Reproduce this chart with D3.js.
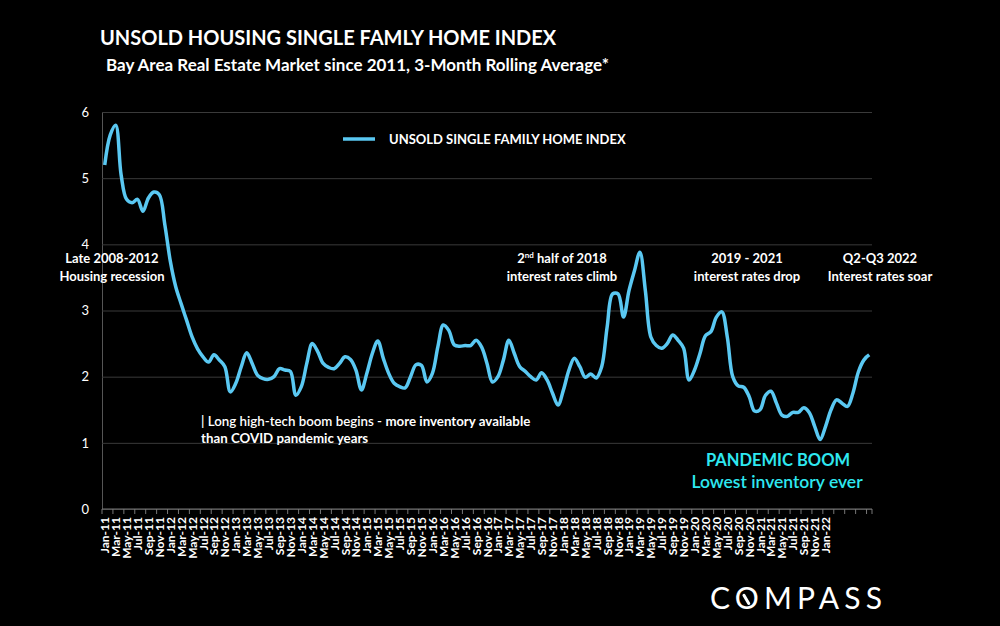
<!DOCTYPE html>
<html>
<head>
<meta charset="utf-8">
<script src="https://cdn.jsdelivr.net/npm/d3@7"></script>
<style>
  html, body { margin: 0; padding: 0; background: #000; }
  svg { display: block; font-family: Lato, "Open Sans", sans-serif; }
</style>
</head>
<body>
<svg id="chart"></svg>
<script>
// monthly values, Jan-11 .. Sep-22
const indexValues = [
  5.20, 5.65, 5.80, 5.05, 4.68, 4.63, 4.68, 4.50, 4.70, 4.79, 4.75, 4.30,
  3.75, 3.36, 3.10, 2.85, 2.60, 2.42, 2.30, 2.22, 2.33, 2.25, 2.15, 1.77,
  1.90, 2.15, 2.36, 2.20, 2.02, 1.97, 1.96, 2.00, 2.12, 2.10, 2.08, 1.72,
  1.85, 2.20, 2.50, 2.38, 2.20, 2.14, 2.12, 2.20, 2.30, 2.26, 2.10, 1.80,
  2.05, 2.35, 2.54, 2.28, 2.05, 1.90, 1.85, 1.83, 2.00, 2.18, 2.17, 1.92,
  2.05, 2.45, 2.78, 2.70, 2.48, 2.46, 2.47, 2.47, 2.55, 2.45, 2.20, 1.92,
  2.00, 2.25, 2.55, 2.35, 2.15, 2.08, 2.00, 1.95, 2.06, 1.95, 1.75, 1.57,
  1.80, 2.10, 2.28, 2.15, 1.99, 2.04, 1.98, 2.15, 2.75, 3.25, 3.25, 2.90,
  3.30, 3.60, 3.88, 3.30, 2.60, 2.47, 2.43, 2.50, 2.63, 2.55, 2.43, 1.95,
  2.10, 2.35, 2.62, 2.68, 2.90, 2.98, 2.60, 2.00, 1.86, 1.84, 1.70, 1.48,
  1.50, 1.72, 1.78, 1.60, 1.42, 1.40, 1.46, 1.46, 1.53, 1.46, 1.25, 1.05,
  1.25, 1.50, 1.65, 1.60, 1.55, 1.75, 2.07, 2.25, 2.33
];
const fmt = d3.timeFormat('%b-%y');
const months = d3.timeMonth.range(new Date(2011, 0, 1), new Date(2011, indexValues.length, 1)).map(fmt);
const lastLabel = 'Jan-22';
const yTicks = [0, 1, 2, 3, 4, 5, 6];

const width = 1000, height = 626;
const marginTop = 112, marginRight = 128, marginBottom = 117, marginLeft = 102;

const svg = d3.select('#chart')
  .attr('width', width)
  .attr('height', height)
  .attr('viewBox', [0, 0, width, height]);

svg.append('rect').attr('width', width).attr('height', height).attr('fill', '#000');

const x = d3.scaleBand()
  .domain(months)
  .range([marginLeft, width - marginRight]);
const y = d3.scaleLinear()
  .domain([0, 6])
  .range([height - marginBottom, marginTop]);

// grid + y labels
svg.append('g')
  .attr('transform', `translate(${marginLeft},0)`)
  .call(d3.axisLeft(y).tickValues(yTicks).tickFormat(d3.format('d')).tickSize(0).tickPadding(13))
  .call((g) => g.select('.domain').attr('stroke', '#555'))
  .call((g) => g.selectAll('.tick text').attr('fill', '#fff').attr('font-size', 13).attr('font-family', 'Lato'))
  .call((g) =>
    g.selectAll('.tick line')
      .clone()
      .attr('x2', width - marginLeft - marginRight)
      .attr('stroke', '#3a3a3a')
  );

// x axis
const labelIdx = months.indexOf(lastLabel);
const xAxis = svg.append('g')
  .attr('transform', `translate(0,${height - marginBottom})`);
xAxis.append('line')
  .attr('x1', marginLeft).attr('x2', width - marginRight)
  .attr('stroke', '#777');
xAxis.selectAll('line.tk')
  .data(months.filter((d, i) => i % 2 === 0).concat([null]))
  .join('line')
  .attr('class', 'tk')
  .attr('x1', (d) => d ? x(d) : width - marginRight)
  .attr('x2', (d) => d ? x(d) : width - marginRight)
  .attr('y2', 5)
  .attr('stroke', '#777');
xAxis.selectAll('text')
  .data(months.filter((d, i) => i % 2 === 0 && i <= labelIdx))
  .join('text')
  .attr('transform', (d) => `translate(${x(d) + x.bandwidth() / 2 + 4.5},8) rotate(-90)`)
  .attr('text-anchor', 'end')
  .attr('fill', '#fff')
  .attr('font-size', 12)
  .attr('font-weight', 700)
  .text((d) => d);

// line
const line = d3.line()
  .curve(d3.curveCatmullRom.alpha(0.5))
  .x((d, i) => x(months[i]) + x.bandwidth() / 2)
  .y((d) => y(d));
svg.append('path')
  .datum(indexValues)
  .attr('fill', 'none')
  .attr('stroke', '#5ac8f2')
  .attr('stroke-width', 3.5)
  .attr('stroke-linejoin', 'round')
  .attr('d', line);

// titles
svg.append('text')
  .attr('x', 100).attr('y', 45)
  .attr('fill', '#fff').attr('font-size', 20).attr('font-weight', 700)
  .text('UNSOLD HOUSING SINGLE FAMLY HOME INDEX');
svg.append('text')
  .attr('x', 106).attr('y', 71)
  .attr('fill', '#fff').attr('font-size', 17).attr('font-weight', 700)
  .text('Bay Area Real Estate Market since 2011, 3-Month Rolling Average*');

// legend
svg.append('line')
  .attr('x1', 343).attr('x2', 375).attr('y1', 139).attr('y2', 139)
  .attr('stroke', '#5ac8f2').attr('stroke-width', 3.5);
svg.append('text')
  .attr('x', 389).attr('y', 144)
  .attr('fill', '#fff').attr('font-size', 13).attr('font-weight', 700)
  .text('UNSOLD SINGLE FAMILY HOME INDEX');

// annotations
const notes = [
  { x: 112, lines: ['Late 2008-2012', 'Housing recession'] },
  { x: 562, lines: ['2nd half of 2018', 'interest rates climb'] },
  { x: 747, lines: ['2019 - 2021', 'interest rates drop'] },
  { x: 880, lines: ['Q2-Q3 2022', 'Interest rates soar'] }
];
notes.forEach((n) => {
  n.lines.forEach((t, j) => {
    const el = svg.append('text')
      .attr('x', n.x).attr('y', 263 + j * 18)
      .attr('text-anchor', 'middle')
      .attr('fill', '#fff').attr('font-size', 13).attr('font-weight', 700);
    if (t.startsWith('2nd')) {
      el.append('tspan').text('2');
      el.append('tspan').attr('font-size', 8).attr('dy', -5).text('nd');
      el.append('tspan').attr('dy', 5).text(' half of 2018');
    } else {
      el.text(t);
    }
  });
});

const boom = svg.append('text')
  .attr('x', 201).attr('y', 426)
  .attr('fill', '#fff').attr('font-size', 13.3);
boom.append('tspan').attr('font-weight', 600).text('| Long high-tech boom begins - ');
boom.append('tspan').attr('font-weight', 700).text('more inventory available');
svg.append('text')
  .attr('x', 201).attr('y', 443)
  .attr('fill', '#fff').attr('font-size', 13.3).attr('font-weight', 700)
  .text('than COVID pandemic years');

svg.append('text')
  .attr('x', 778).attr('y', 466)
  .attr('text-anchor', 'middle')
  .attr('fill', '#2ee8f0').attr('font-size', 16.5).attr('font-weight', 700)
  .text('PANDEMIC BOOM');
svg.append('text')
  .attr('x', 777).attr('y', 488)
  .attr('text-anchor', 'middle')
  .attr('fill', '#2ee8f0').attr('font-size', 17.5).attr('font-weight', 600)
  .text('Lowest inventory ever');

// logo
const logo = svg.append('text')
  .attr('x', 710).attr('y', 609)
  .attr('fill', '#fff').attr('font-size', 30).attr('font-weight', 400)
  .attr('textLength', 172)
  .attr('font-family', 'Lato')
  .text('COMPASS');
const o = logo.node().getExtentOfChar(1);
svg.append('line')
  .attr('x1', o.x + o.width * 0.38).attr('y1', o.y + o.height * 0.45)
  .attr('x2', o.x + o.width * 0.58).attr('y2', o.y + o.height * 0.68)
  .attr('stroke', '#fff').attr('stroke-width', 3).attr('stroke-linecap', 'round');
</script>
</body>
</html>
